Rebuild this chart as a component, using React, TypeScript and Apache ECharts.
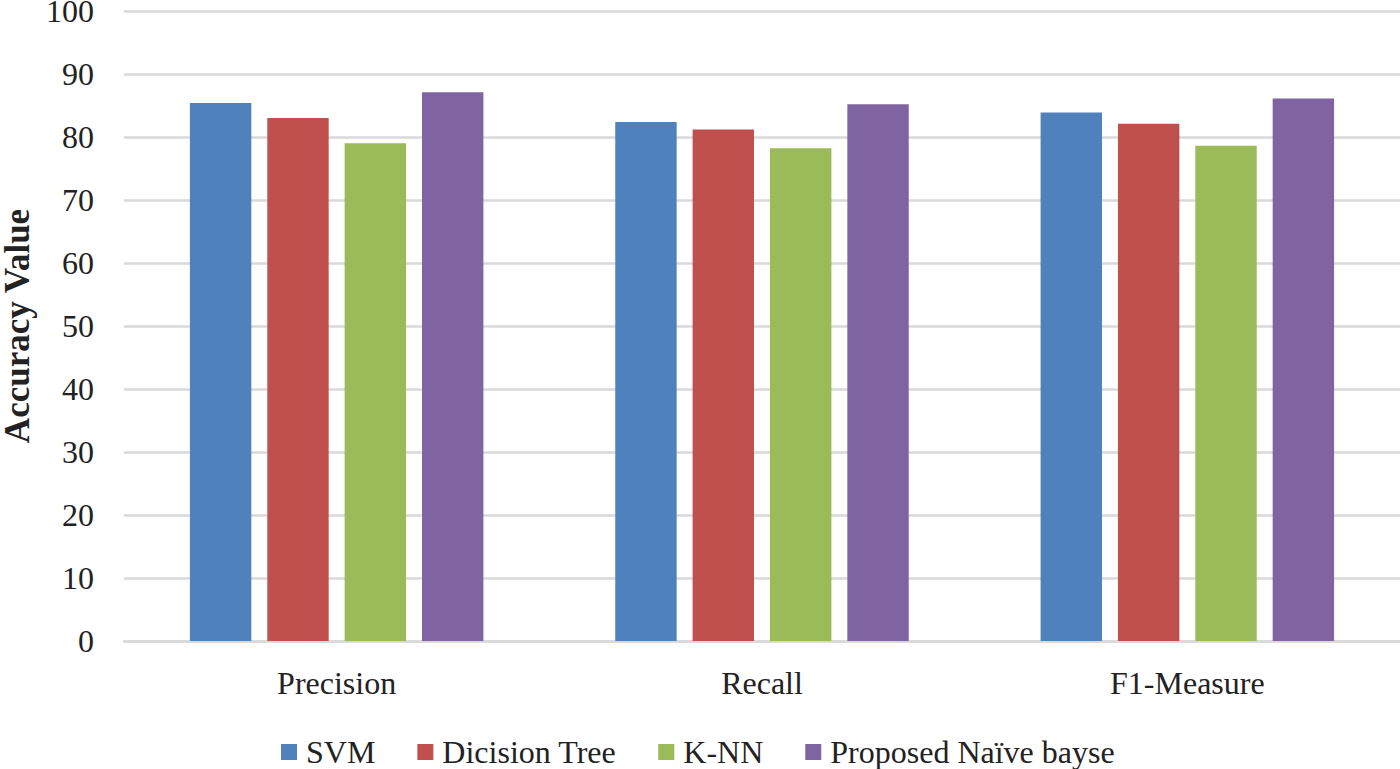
import React, { useEffect, useRef } from "react";
import * as echarts from "echarts";

const categories = ["Precision", "Recall", "F1-Measure"];
const seriesNames = ["SVM", "Dicision Tree", "K-NN", "Proposed Naïve bayse"];
const svm = [85.4, 82.4, 83.9];
const dicisionTree = [83.0, 81.2, 82.1];
const knn = [79.0, 78.2, 78.6];
const naiveBayse = [87.1, 85.2, 86.1];
const colors = ["#4F81BD", "#C0504D", "#9BBB59", "#8064A2"];

const FONT = "'Liberation Serif', 'Times New Roman', serif";

export default function App() {
  const ref = useRef<HTMLDivElement>(null);
  useEffect(() => {
    if (!ref.current) return;
    const chart = echarts.init(ref.current, null, { renderer: "svg" });
    const data = [svm, dicisionTree, knn, naiveBayse];
    chart.setOption({
      animation: false,
      textStyle: { fontFamily: FONT },
      grid: {
        left: 124,
        right: 0,
        top: 11,
        bottom: 128,
        containLabel: false,
        outerBoundsMode: "none",
      },
      legend: {
        top: 736,
        left: 281,
        itemWidth: 16,
        itemHeight: 16,
        itemGap: 42,
        icon: "rect",
        padding: 0,
        textStyle: {
          fontFamily: FONT,
          fontSize: 32,
          lineHeight: 30,
          color: "#222",
          padding: [0, 0, 0, 4],
        },
        data: seriesNames,
      },
      xAxis: {
        type: "category",
        data: categories,
        axisLine: { lineStyle: { color: "#d9d9d9", width: 2.5 } },
        axisTick: { show: false },
        axisLabel: { fontFamily: FONT, fontSize: 32, color: "#222", margin: 26 },
      },
      yAxis: {
        type: "value",
        min: 0,
        max: 100,
        interval: 10,
        name: "Accuracy Value",
        nameLocation: "middle",
        nameGap: 82,
        nameTextStyle: {
          fontFamily: FONT,
          fontSize: 35,
          lineHeight: 30,
          fontWeight: "bold",
          color: "#222",
        },
        axisLine: { show: false },
        axisTick: { show: false },
        axisLabel: {
          fontFamily: FONT,
          fontSize: 32,
          color: "#222",
          margin: 30,
          lineHeight: 22,
        },
        splitLine: { lineStyle: { color: "#d9d9d9", width: 2.5 } },
      },
      series: seriesNames.map((name, i) => ({
        name,
        type: "bar",
        data: data[i],
        barCategoryGap: "31%",
        barGap: "26%",
        itemStyle: { color: colors[i] },
      })),
    });
    return () => chart.dispose();
  }, []);
  return (
    <div
      ref={ref}
      style={{ position: "absolute", left: 0, top: 0, width: 1400, height: 769, background: "#fff" }}
    />
  );
}
